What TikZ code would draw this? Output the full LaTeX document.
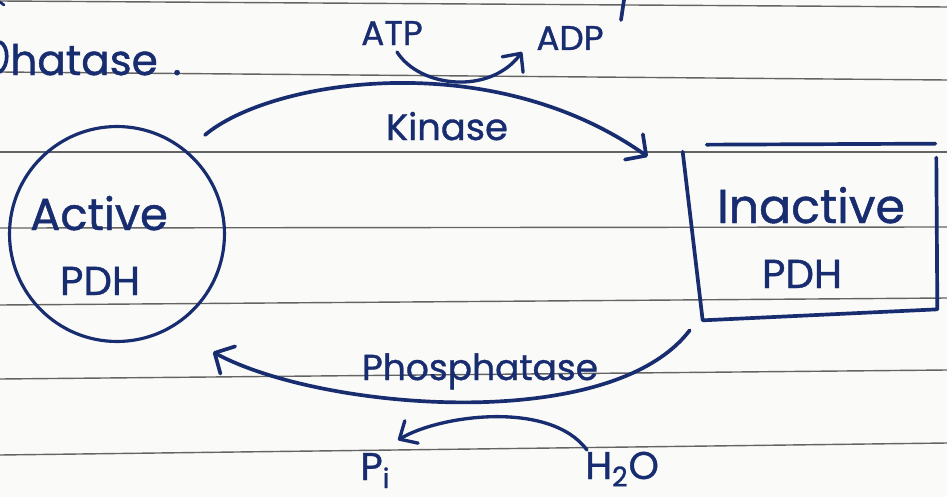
\documentclass[tikz,border=0pt]{standalone}
\usepackage{fontspec}
\setmainfont{Poppins}[FakeBold=1]
\usetikzlibrary{arrows.meta,calc}
\definecolor{ink}{RGB}{24,44,112}
\definecolor{paper}{RGB}{250,250,248}
\definecolor{rulegray}{RGB}{100,100,100}
\begin{document}
\begin{tikzpicture}[x=0.02cm,y=-0.02cm,
  pen/.style={draw=ink,line width=2.1pt,line cap=round,line join=round},
  arcpen/.style={pen,line width=1.9pt},
  bigtip/.style={-{Straight Barb[length=0.3cm,width=0.62cm,round]}},
  smalltip/.style={-{Straight Barb[length=0.28cm,width=0.52cm,round]}},
  lbl/.style={text=ink,inner sep=0pt,font=\fontsize{#1}{#1}\selectfont},
  ruling/.style={draw=rulegray,line width=0.8pt}]
\fill[paper] (0,0) rectangle (947,497);
\useasboundingbox (0,0) rectangle (947,497);
\begin{scope}
\clip (0,0) rectangle (947,497);
% ruled lines of the notebook page
\draw[ruling] (0,1) -- (947,7);
\draw[ruling] (0,72) -- (947,80);
\draw[ruling] (0,152) -- (947,152);
\draw[ruling] (0,228) -- (947,227);
\draw[ruling] (0,305) -- (947,298);
\draw[ruling] (0,379) -- (947,370);
\draw[ruling] (0,455) -- (947,443);

% ends of the previous line of writing
\draw[pen] (624,0) -- (621,20);
\draw[pen,line width=1.5pt] (0,2) -- (4,5);
\draw[pen] (0,42) .. controls (9,46) and (9,66) .. (0,72);
\node[lbl=24pt,anchor=base west] (tail) at (10,75) {hatase\hspace{0.35em}.};

% the two forms of the enzyme
\node[circle,pen,line width=1.8pt,minimum size=4.3cm,inner sep=0pt] (active) at (117,234) {};
\node[lbl=25.5pt,anchor=base] (activeA) at (99,230) {Active};
\node[lbl=23pt,anchor=base] (activeB) at (100,295) {PDH};

\node[minimum width=5.08cm,minimum height=3.5cm,inner sep=0pt] (inactive) at (810,232.5) {};
\draw[pen] ($(inactive.north west)+(0,7)$) -- ($(inactive.south west)+(20,0)$)
  -- ($(inactive.south east)+(0,-11)$) -- ($(inactive.north east)+(-1,13)$);
\draw[pen] ($(inactive.north west)+(24,0)$) -- ($(inactive.north east)+(-2,-1)$);
\node[lbl=27pt,anchor=base] (inactiveA) at (811,223) {Inactive};
\node[lbl=23pt,anchor=base] (inactiveB) at (802,288) {PDH};

% kinase: active -> inactive, using ATP
\draw[pen,bigtip] ($(active.center)+(88,-99)$) .. controls (270,80) and (490,45)
  .. ($(inactive.north west)+(-35,12)$);
\node[lbl=21pt,anchor=base] (kinase) at (447,140) {Kinase};
\node[lbl=19.5pt,anchor=base] (atp) at (392,45) {ATP};
\node[lbl=19.5pt,anchor=base] (adp) at (570,50) {ADP};
\draw[arcpen,smalltip] ($(atp.base)+(5,7)$) .. controls (420,88) and (490,95)
  .. ($(adp.base)+(-48,2)$);

% phosphatase: inactive -> active, using water
\draw[pen,bigtip] ($(inactive.south west)+(7,10)$) .. controls (610,435) and (320,410)
  .. ($(active.center)+(96,118)$);
\node[lbl=20.5pt,anchor=base] (phos) at (480,380) {Phosphatase};
\node[lbl=22pt,anchor=base west] (pi) at (360,480) {P\textsubscript{i}};
\node[lbl=22pt,anchor=base west] (water) at (585,479) {H\textsubscript{2}O};
\draw[arcpen,smalltip] ($(water.base west)+(2,-29)$) .. controls (550,400) and (440,415)
  .. ($(pi.base west)+(38,-40)$);
\end{scope}
\end{tikzpicture}
\end{document}
